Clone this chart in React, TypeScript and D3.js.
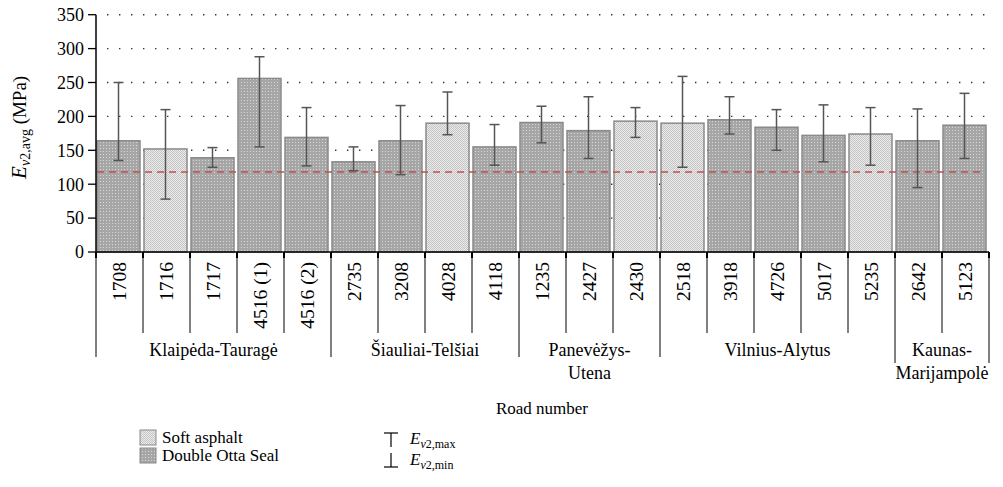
import React from "react";
import * as d3 from "d3";

const categories = ["1708", "1716", "1717", "4516 (1)", "4516 (2)", "2735", "3208", "4028", "4118", "1235", "2427", "2430", "2518", "3918", "4726", "5017", "5235", "2642", "5123"];
const surface = ["D", "S", "D", "D", "D", "D", "D", "S", "D", "D", "D", "S", "S", "D", "D", "D", "S", "D", "D"];
const avgValues = [164, 152, 139, 256, 169, 133, 164, 190, 155, 191, 179, 193, 190, 195, 184, 172, 174, 164, 187];
const maxValues = [250, 210, 154, 288, 213, 155, 216, 236, 188, 215, 229, 213, 259, 229, 210, 217, 213, 211, 234];
const minValues = [135, 78, 125, 155, 127, 120, 114, 173, 128, 161, 138, 169, 125, 174, 150, 133, 128, 95, 138];
const groupNames = [["Klaipėda-Tauragė"], ["Šiauliai-Telšiai"], ["Panevėžys-", "Utena"], ["Vilnius-Alytus"], ["Kaunas-", "Marijampolė"]];
const groupSizes = [5, 4, 3, 5, 2];
const yTicks = [0, 50, 100, 150, 200, 250, 300, 350];
const threshold = 118;

const FONT = "Liberation Serif, DejaVu Serif, serif";

export default function App() {
  const W = 1003, H = 487;
  const x0 = 96, x1 = 989, yTop = 14.7, yBot = 252;
  const x = d3.scaleBand<string>().domain(categories).range([x0, x1]).padding(0);
  const y = d3.scaleLinear().domain([0, 350]).range([yBot, yTop]);
  const bw = x.bandwidth();
  const inset = 1;
  const barW = bw - 4;

  const groups: { start: number; end: number; names: string[] }[] = [];
  let idx = 0;
  groupSizes.forEach((n, i) => {
    const s = x(categories[idx])!;
    const e = x(categories[idx + n - 1])! + bw;
    groups.push({ start: s, end: e, names: groupNames[i] });
    idx += n;
  });
  const groupBoundaryIdx = new Set<number>();
  let acc = 0;
  groupSizes.forEach((n) => { groupBoundaryIdx.add(acc); acc += n; });
  groupBoundaryIdx.add(acc);

  return (
    <svg width={W} height={H} style={{ position: "absolute", left: 0, top: 0, background: "#fff", fontFamily: FONT }}>
      <defs>
        <pattern id="dark" width="3" height="3" patternUnits="userSpaceOnUse">
          <rect width="3" height="3" fill="#a6a6a6" />
          <rect x="1" y="1" width="1" height="1" fill="#d8d8d8" />
        </pattern>
        <pattern id="light" width="2" height="2" patternUnits="userSpaceOnUse">
          <rect width="2" height="2" fill="#ebebeb" />
          <rect x="0" y="0" width="1" height="1" fill="#c4c4c4" />
          <rect x="1" y="1" width="1" height="1" fill="#c4c4c4" />
        </pattern>
      </defs>
      <rect width={W} height={H} fill="#fff" />
      {yTicks.filter((t) => t > 0).map((t) => (
        <line key={"g" + t} x1={x0 + 11} x2={x1} y1={y(t)} y2={y(t)} stroke="#333" strokeWidth={1.4} strokeDasharray="1.4 10.6" />
      ))}
      {categories.map((c, i) => {
        const bx = x(c)! + inset;
        return (
          <rect key={"b" + c} x={bx} y={y(avgValues[i])} width={barW} height={yBot - y(avgValues[i])}
            fill={surface[i] === "S" ? "url(#light)" : "url(#dark)"} stroke="#8a8a8a" strokeWidth={1.5} />
        );
      })}
      <line x1={x0 + 1} x2={x1 - 8} y1={y(threshold)} y2={y(threshold)} stroke="#c0504d" strokeWidth={1.7} strokeDasharray="7 5" />
      {categories.map((c, i) => {
        const cx = x(c)! + inset + barW / 2;
        return (
          <g key={"e" + c} stroke="#555" strokeWidth={1.5}>
            <line x1={cx} x2={cx} y1={y(maxValues[i])} y2={y(minValues[i])} />
            <line x1={cx - 5} x2={cx + 5} y1={y(maxValues[i])} y2={y(maxValues[i])} />
            <line x1={cx - 5} x2={cx + 5} y1={y(minValues[i])} y2={y(minValues[i])} />
          </g>
        );
      })}
      <line x1={x0} x2={x0} y1={yTop} y2={yBot} stroke="#000" strokeWidth={1.5} />
      {yTicks.map((t) => (
        <g key={"yt" + t}>
          <line x1={x0 - 8} x2={x0} y1={y(t)} y2={y(t)} stroke="#000" strokeWidth={1.3} />
          <text x={x0 - 12} y={y(t)} dy="0.35em" textAnchor="end" fontSize={18} fill="#000">{t}</text>
        </g>
      ))}
      <text transform={`translate(26,${(yTop + yBot) / 2 - 6}) rotate(-90)`} textAnchor="middle" fontSize={19} fill="#000">
        <tspan fontStyle="italic" fontSize={21}>E</tspan>
        <tspan fontStyle="italic" fontSize={14} dy={4}>v</tspan>
        <tspan fontSize={14}>2,avg</tspan>
        <tspan dy={-4}> (MPa)</tspan>
      </text>
      <line x1={x0} x2={x1} y1={yBot} y2={yBot} stroke="#000" strokeWidth={1.5} />
      {d3.range(categories.length + 1).map((k) => {
        const bx = k < categories.length ? x(categories[k])! : x1;
        const isGroup = groupBoundaryIdx.has(k);
        const isKaunas = k >= categories.length - 2;
        const bottom = isGroup ? (isKaunas ? 363 : 357) : 333;
        return (
          <g key={"xt" + k}>
            <line x1={bx} x2={bx} y1={yBot} y2={yBot + 6} stroke="#000" strokeWidth={2} />
            <line x1={bx} x2={bx} y1={yBot} y2={bottom} stroke="#000" strokeWidth={1} />
          </g>
        );
      })}
      {categories.map((c) => (
        <text key={"xl" + c} transform={`translate(${x(c)! + bw / 2},${yBot + 10}) rotate(-90)`} textAnchor="end" dy="0.35em" fontSize={19.5} fill="#000">{c}</text>
      ))}
      {groups.map((g, i) => (
        <text key={"gl" + i} x={(g.start + g.end) / 2} y={356} textAnchor="middle" fontSize={18} fill="#000">
          {g.names.map((n, j) => (
            <tspan key={j} x={(g.start + g.end) / 2} dy={j === 0 ? 0 : 23}>{n}</tspan>
          ))}
        </text>
      ))}
      <text x={542} y={414} textAnchor="middle" fontSize={17} fill="#000">Road number</text>
      <rect x={140} y={430} width={16} height={15} fill="url(#light)" stroke="#8a8a8a" strokeWidth={1} />
      <rect x={140} y={448} width={16} height={15} fill="url(#dark)" stroke="#8a8a8a" strokeWidth={1} />
      <text x={162} y={443} fontSize={17} fill="#000">Soft asphalt</text>
      <text x={162} y={461} fontSize={17} fill="#000">Double Otta Seal</text>
      <g stroke="#000" strokeWidth={1.2}>
        <line x1={384} x2={398} y1={433} y2={433} />
        <line x1={391} x2={391} y1={433} y2={447} />
        <line x1={391} x2={391} y1={453} y2={467} />
        <line x1={384} x2={398} y1={467} y2={467} />
      </g>
      <text x={410} y={444} fontSize={17} fill="#000">
        <tspan fontStyle="italic">E</tspan>
        <tspan fontStyle="italic" fontSize={12} dy={4}>v</tspan>
        <tspan fontSize={12}>2,max</tspan>
      </text>
      <text x={410} y={465} fontSize={17} fill="#000">
        <tspan fontStyle="italic">E</tspan>
        <tspan fontStyle="italic" fontSize={12} dy={4}>v</tspan>
        <tspan fontSize={12}>2,min</tspan>
      </text>
    </svg>
  );
}
